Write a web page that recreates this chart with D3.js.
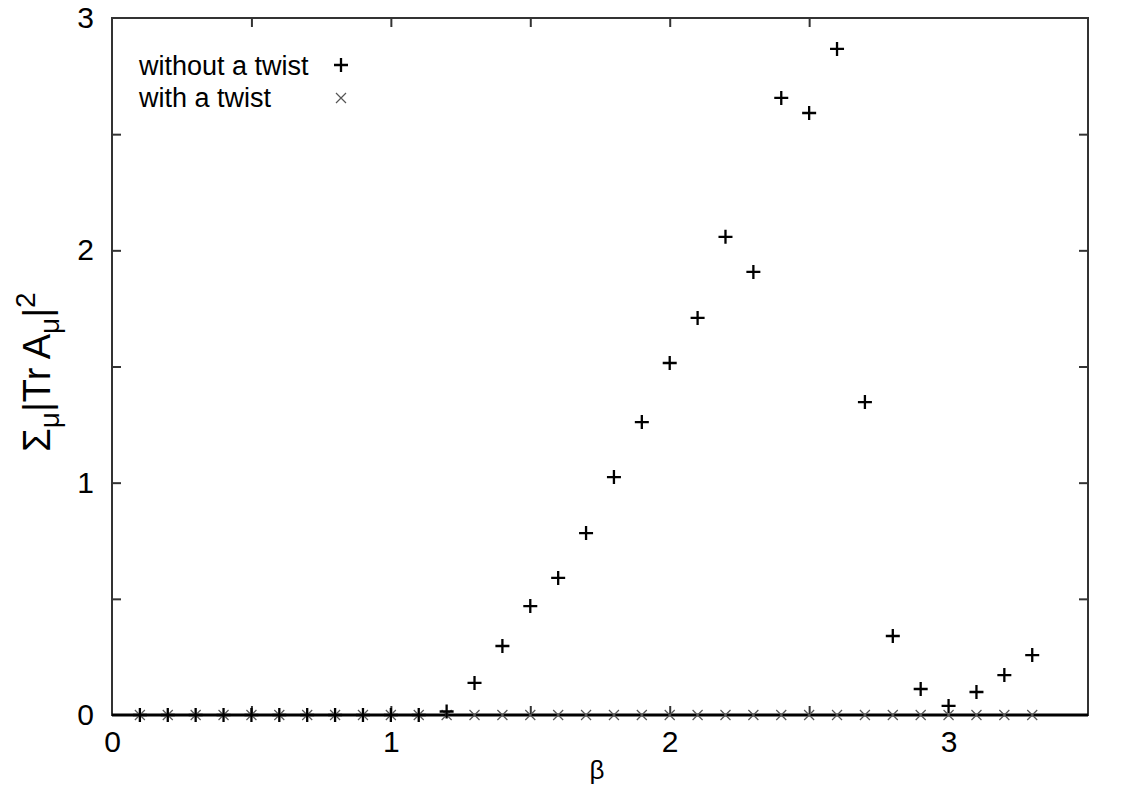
<!DOCTYPE html>
<html><head><meta charset="utf-8">
<script src="https://cdn.jsdelivr.net/npm/d3@7"></script>
<style>body{margin:0;background:#fff}svg{display:block}</style>
</head><body>
<svg id="c" width="1127" height="789"></svg>
<script>
const beta = [0.1,0.2,0.3,0.4,0.5,0.6,0.7,0.8,0.9,1.0,1.1,1.2,1.3,1.4,1.5,1.6,1.7,1.8,1.9,2.0,2.1,2.2,2.3,2.4,2.5,2.6,2.7,2.8,2.9,3.0,3.1,3.2,3.3];
const withoutTwist = [0,0,0,0,0,0,0,0,0,0,0,0.015,0.138,0.297,0.469,0.59,0.783,1.024,1.261,1.515,1.709,2.058,1.907,2.656,2.591,2.867,1.347,0.34,0.112,0.039,0.099,0.172,0.258];
const withTwist = [0,0,0,0,0,0,0,0,0,0,0,0,0,0,0,0,0,0,0,0,0,0,0,0,0,0,0,0,0,0,0,0,0];
const xTicks = [0,0.5,1,1.5,2,2.5,3,3.5];
const yTicks = [0,0.5,1,1.5,2,2.5,3];
const seriesNames = ["without a twist","with a twist"];

const svg = d3.select("#c");
const L=112, R=1088, T=18, B=715;
const x = d3.scaleLinear().domain([0,3.5]).range([L,R]);
const y = d3.scaleLinear().domain([0,3]).range([B,T]);
const font = "'Liberation Sans', Arial, sans-serif";
const fmt = d => Number.isInteger(d) ? String(d) : "";
const tl = 9;

const axB = d3.axisBottom(x).tickValues(xTicks).tickSize(-tl).tickSizeOuter(0).tickFormat(fmt).tickPadding(16);
const axT = d3.axisTop(x).tickValues(xTicks).tickSize(-tl).tickSizeOuter(0).tickFormat("");
const axL = d3.axisLeft(y).tickValues(yTicks).tickSize(-tl).tickSizeOuter(0).tickFormat(fmt).tickPadding(18);
const axR = d3.axisRight(y).tickValues(yTicks).tickSize(-tl).tickSizeOuter(0).tickFormat("");

function style(g){
  g.select(".domain").remove();
  g.selectAll(".tick line").attr("stroke","#333").attr("stroke-width",2);
  g.selectAll(".tick text").attr("font-family",font).attr("font-size",30).attr("fill","#000");
}
svg.append("g").attr("transform",`translate(0,${B})`).call(axB).call(style);
svg.append("g").attr("transform",`translate(0,${T})`).call(axT).call(style);
svg.append("g").attr("transform",`translate(${L},0)`).call(axL).call(style);
svg.append("g").attr("transform",`translate(${R},0)`).call(axR).call(style);
svg.selectAll(".tick").filter(d => d===0 || d===3.5 || d===3).selectAll("line").remove();

svg.append("rect").attr("x",L).attr("y",T).attr("width",R-L).attr("height",B-T)
  .attr("fill","none").attr("stroke","#333").attr("stroke-width",2);
svg.append("line").attr("x1",L).attr("x2",R).attr("y1",B).attr("y2",B).attr("stroke","#000").attr("stroke-width",3);

const plus = (g, cx, cy, s) => g.append("path").attr("d",`M${cx-s},${cy}H${cx+s}M${cx},${cy-s}V${cy+s}`)
  .attr("stroke","#000").attr("stroke-width",2.3).attr("fill","none");
const cross = (g, cx, cy, s) => g.append("path").attr("d",`M${cx-s},${cy-s}L${cx+s},${cy+s}M${cx-s},${cy+s}L${cx+s},${cy-s}`)
  .attr("stroke","#555").attr("stroke-width",1.2).attr("fill","none");

const gW = svg.append("g");
beta.forEach((b,i)=> cross(gW, x(b), y(withTwist[i]), 5));
const gP = svg.append("g");
beta.forEach((b,i)=> plus(gP, x(b), y(withoutTwist[i]), 7));

const lg = svg.append("g").attr("font-family",font).attr("font-size",27).attr("fill","#000");
lg.append("text").attr("x",139).attr("y",75).text(seriesNames[0]);
lg.append("text").attr("x",139).attr("y",107).text(seriesNames[1]);
plus(lg, 341, 65, 7);
cross(lg, 341, 98, 5);

svg.append("text").attr("x",597).attr("y",779).attr("text-anchor","middle")
  .attr("font-family",font).attr("font-size",26).text("β");
const yl = svg.append("text").attr("transform","translate(50,372) rotate(-90)").attr("text-anchor","middle")
  .attr("font-family",font).attr("font-size",38);
yl.append("tspan").text("Σ");
yl.append("tspan").attr("font-size",28).attr("dy",9).text("μ");
yl.append("tspan").attr("dy",-9).text("|Tr A");
yl.append("tspan").attr("font-size",28).attr("dy",9).text("μ");
yl.append("tspan").attr("dy",-9).text("|");
yl.append("tspan").attr("font-size",28).attr("dy",-15).text("2");
</script>
</body></html>
